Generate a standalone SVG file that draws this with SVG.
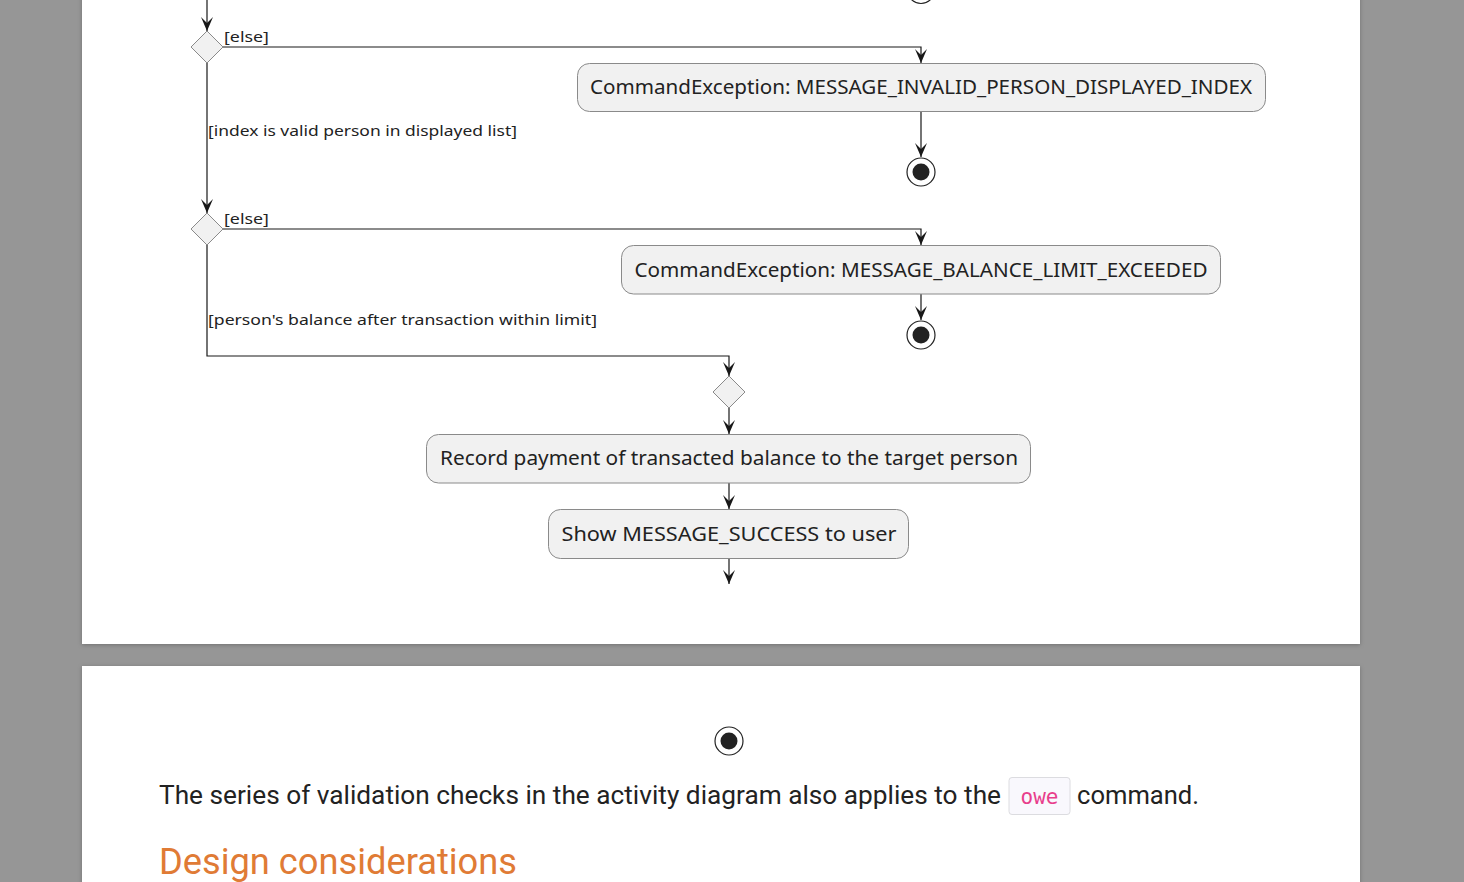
<svg xmlns="http://www.w3.org/2000/svg" width="1464" height="882" viewBox="0 0 1464 882">
<defs>
<filter id="sh" x="-5%" y="-5%" width="110%" height="110%"><feDropShadow dx="0" dy="1" stdDeviation="2" flood-color="#000" flood-opacity="0.25"/></filter>
<marker id="ah" viewBox="0 0 14 12" refX="14" refY="6" markerWidth="14" markerHeight="12" markerUnits="userSpaceOnUse" orient="auto"><path d="M0,0 L14,6 L0,12 L6,6 Z" fill="#181818"/></marker>
</defs>
<style>
.act{fill:#f1f1f1;stroke:#8a8a8a;stroke-width:1}
.dia{fill:#f1f1f1;stroke:#8a8a8a;stroke-width:1}
.t{font-family:"Noto Sans","DejaVu Sans",sans-serif;font-size:19px;fill:#222}
.g{font-family:"Noto Sans","DejaVu Sans",sans-serif;font-size:15px;fill:#222}
.ln{fill:none;stroke:#181818;stroke-width:1.2;marker-end:url(#ah)}
.p{font-family:Roboto,"Liberation Sans",sans-serif;font-size:26px;fill:#222}
</style>
<rect x="0" y="0" width="1464" height="882" fill="#969696"/>
<rect x="82" y="-10" width="1278" height="654" fill="#fff" filter="url(#sh)"/>
<rect x="82" y="666" width="1278" height="230" fill="#fff" filter="url(#sh)"/>

<g id="connectors">
<path class="ln" d="M207,0 V31"/>
<path class="ln" d="M223,47 H921 V63"/>
<path class="ln" d="M921,111 V157"/>
<path class="ln" d="M207,62 V213"/>
<path class="ln" d="M223,229 H921 V245"/>
<path class="ln" d="M921,294 V320"/>
<path class="ln" d="M207,244 V356 H729 V376"/>
<path class="ln" d="M729,408 V434"/>
<path class="ln" d="M729,483 V509"/>
<path class="ln" d="M729,559 V584"/>
</g>

<g id="end0"><circle cx="921" cy="-10" r="13.5" fill="#fff" stroke="#222" stroke-width="1.2"/><circle cx="921" cy="-10" r="8" fill="#222"/></g>

<g id="d1"><polygon class="dia" points="207,31 223,47 207,63 191,47"/><text class="g" x="224" y="42" textLength="45" lengthAdjust="spacingAndGlyphs">[else]</text></g>
<g id="a1"><rect class="act" x="577.5" y="63.5" width="688" height="48" rx="12"/><text class="t" x="921" y="94" text-anchor="middle" textLength="662" lengthAdjust="spacingAndGlyphs">CommandException: MESSAGE_INVALID_PERSON_DISPLAYED_INDEX</text></g>
<g id="end1"><circle cx="921" cy="172" r="14" fill="#fff" stroke="#222" stroke-width="1.2"/><circle cx="921" cy="172" r="8.5" fill="#222"/></g>
<g id="l1"><text class="g" x="208" y="136" textLength="309" lengthAdjust="spacingAndGlyphs">[index is valid person in displayed list]</text></g>

<g id="d2"><polygon class="dia" points="207,213 223,229 207,245 191,229"/><text class="g" x="224" y="224" textLength="45" lengthAdjust="spacingAndGlyphs">[else]</text></g>
<g id="a2"><rect class="act" x="621.5" y="245.5" width="599" height="48.5" rx="12"/><text class="t" x="921" y="277" text-anchor="middle" textLength="573" lengthAdjust="spacingAndGlyphs">CommandException: MESSAGE_BALANCE_LIMIT_EXCEEDED</text></g>
<g id="end2"><circle cx="921" cy="335" r="14" fill="#fff" stroke="#222" stroke-width="1.2"/><circle cx="921" cy="335" r="8.5" fill="#222"/></g>
<g id="l2"><text class="g" x="208" y="325" textLength="389" lengthAdjust="spacingAndGlyphs">[person's balance after transaction within limit]</text></g>

<g id="d3"><polygon class="dia" points="729,376 745,392 729,408 713,392"/></g>
<g id="a3"><rect class="act" x="426.5" y="434.5" width="604" height="48.5" rx="12"/><text class="t" x="729" y="465" text-anchor="middle" textLength="578" lengthAdjust="spacingAndGlyphs">Record payment of transacted balance to the target person</text></g>
<g id="a4"><rect class="act" x="548.5" y="509.5" width="360" height="49" rx="12"/><text class="t" x="729" y="541" text-anchor="middle" textLength="335" lengthAdjust="spacingAndGlyphs">Show MESSAGE_SUCCESS to user</text></g>

<g id="end3"><circle cx="729" cy="741" r="14" fill="#fff" stroke="#222" stroke-width="1.2"/><circle cx="729" cy="741" r="8.5" fill="#222"/></g>

<text class="p" x="159" y="804" textLength="842" lengthAdjust="spacingAndGlyphs">The series of validation checks in the activity diagram also applies to the</text>
<rect x="1009" y="777.5" width="61" height="37" rx="3" fill="#f9f8fd" stroke="#dcdce0" stroke-width="1"/>
<text x="1039.5" y="804" text-anchor="middle" font-family="'DejaVu Sans Mono','Liberation Mono',monospace" font-size="21" fill="#e83e8c">owe</text>
<text class="p" x="1077" y="804" textLength="122" lengthAdjust="spacingAndGlyphs">command.</text>
<text x="159" y="874" font-family="Roboto,'Liberation Sans',sans-serif" font-size="36" fill="#e07b35" textLength="358" lengthAdjust="spacingAndGlyphs">Design considerations</text>
</svg>
